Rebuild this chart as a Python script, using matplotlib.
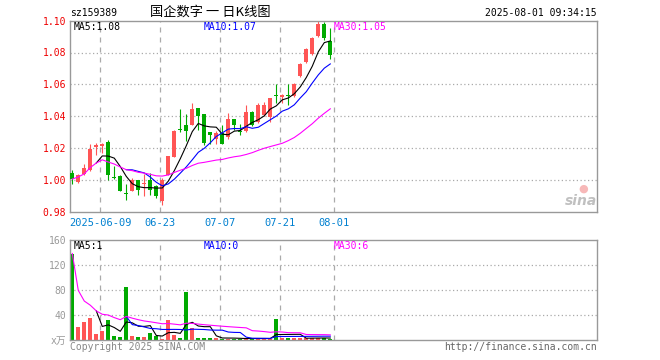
import numpy as np
import pandas as pd
import matplotlib
matplotlib.use('Agg')
import matplotlib.pyplot as plt

# daily bars, 2025-06-03 .. 2025-08-01
dates = ['06-03', '06-04', '06-05', '06-06', '06-09', '06-10', '06-11', '06-12', '06-13',
         '06-16', '06-17', '06-18', '06-19', '06-20', '06-23', '06-24', '06-25', '06-26',
         '06-27', '06-30', '07-01', '07-02', '07-03', '07-04', '07-07', '07-08', '07-09',
         '07-10', '07-11', '07-14', '07-15', '07-16', '07-17', '07-18', '07-21', '07-22',
         '07-23', '07-24', '07-25', '07-28', '07-29', '07-30', '07-31', '08-01']
opens = [1.0042, 0.9983, 1.0036, 1.0061, 1.0203, 1.0214, 1.0235, 1.0013, 1.0025, 0.9913,
         0.9931, 0.9996, 0.9975, 0.9996, 0.9958, 0.9864, 1.0031, 1.0143, 1.0314, 1.0346,
         1.0346, 1.0451, 1.0413, 1.0298, 1.0258, 1.0294, 1.0266, 1.0382, 1.0302, 1.0304,
         1.0426, 1.0365, 1.0409, 1.0396, 1.0530, 1.0520, 1.0530, 1.0526, 1.0650, 1.0740,
         1.0792, 1.0901, 1.0979, 1.0870]
highs = [1.0063, 1.0036, 1.0101, 1.0226, 1.0231, 1.0231, 1.0252, 1.0084, 1.0031, 0.9973,
         1.0010, 1.0000, 1.0036, 1.0042, 0.9969, 1.0010, 1.0151, 1.0314, 1.0444, 1.0413,
         1.0482, 1.0451, 1.0413, 1.0298, 1.0304, 1.0346, 1.0417, 1.0382, 1.0352, 1.0468,
         1.0430, 1.0482, 1.0488, 1.0514, 1.0602, 1.0541, 1.0602, 1.0606, 1.0734, 1.0830,
         1.0895, 1.1000, 1.0992, 1.0954]
lows = [0.9973, 0.9979, 1.0031, 1.0057, 1.0157, 1.0168, 0.9996, 1.0004, 0.9927, 0.9874,
        0.9927, 0.9906, 0.9899, 0.9906, 0.9885, 0.9839, 1.0027, 1.0141, 1.0300, 1.0245,
        1.0342, 1.0310, 1.0216, 1.0224, 1.0224, 1.0226, 1.0258, 1.0314, 1.0283, 1.0300,
        1.0340, 1.0355, 1.0398, 1.0361, 1.0482, 1.0482, 1.0472, 1.0522, 1.0644, 1.0736,
        1.0786, 1.0895, 1.0881, 1.0759]
closes = [1.0004, 1.0031, 1.0075, 1.0195, 1.0220, 1.0226, 1.0027, 1.0010, 0.9931, 0.9910,
          0.9996, 0.9933, 0.9979, 0.9933, 0.9895, 1.0000, 1.0147, 1.0308, 1.0310, 1.0304,
          1.0444, 1.0403, 1.0231, 1.0279, 1.0294, 1.0226, 1.0382, 1.0346, 1.0300, 1.0426,
          1.0346, 1.0468, 1.0468, 1.0514, 1.0526, 1.0535, 1.0526, 1.0602, 1.0730, 1.0820,
          1.0891, 1.0979, 1.0891, 1.0782]
# volume, 万
volumes = [138.7, 19.7, 27.7, 35.2, 9.6, 13.3, 32.0, 6.4, 4.8, 84.8,
           6.4, 4.8, 4.8, 11.2, 5.3, 1.6, 32.0, 7.5, 3.2, 76.8,
           19.2, 2.1, 2.1, 3.2, 3.2, 1.6, 1.6, 1.6, 1.6, 1.6,
           1.6, 1.6, 1.6, 1.6, 33.6, 2.1, 2.1, 2.1, 2.1, 2.1,
           2.7, 2.7, 2.7, 1.6]

tick_dates = ['06-09', '06-23', '07-07', '07-21', '08-01']
tick_labels = ['2025-06-09', '06-23', '07-07', '07-21', '08-01']
price_ticks = [0.98, 1.00, 1.02, 1.04, 1.06, 1.08, 1.10]
vol_ticks = [0, 40, 80, 120, 160]
vol_tick_labels = ['x万', '40', '80', '120', '160']

ma_price_labels = ['MA5:1.08', 'MA10:1.07', 'MA30:1.05']
ma_vol_labels = ['MA5:1', 'MA10:0', 'MA30:6']

W, H = 660, 360
RED = '#ff5555'
GREEN = '#00aa00'
MA_COLORS = ['black', '#0000ff', '#ff00ff']
GRID = '#aaaaaa'
MONO = ['DejaVu Sans Mono', 'Noto Sans CJK SC']


def rect(l, t, r, b):
    return [l / W, 1 - b / H, (r - l) / W, (b - t) / H]


def moving_averages(values):
    s = pd.Series(values)
    return [s.rolling(5, min_periods=5).mean(),
            s.rolling(10, min_periods=10).mean(),
            s.rolling(30, min_periods=1).mean()]


x = np.arange(len(dates))
o = np.array(opens)
c = np.array(closes)
up = c >= o
cols = np.where(up, RED, GREEN)
grid_x = [dates.index(d) + 0.67 for d in tick_dates]

fig = plt.figure(figsize=(W / 100, H / 100), dpi=100)
ax = fig.add_axes(rect(70.3, 20.7, 597.3, 211.5))
axv = fig.add_axes(rect(70.3, 240.3, 597.3, 339.5))

for a in (ax, axv):
    a.set_xlim(-0.33, 87.5)
    for sp in a.spines.values():
        sp.set_color('#999999')
        sp.set_linewidth(1.0)
    for gx in grid_x:
        a.axvline(gx, color=GRID, lw=0.9, ls=(0, (4, 4)), zorder=0)

# candles
body_lo = np.minimum(o, c)
body_h = np.maximum(np.abs(c - o), 0.0007)
ax.vlines(x, lows, highs, colors=cols, lw=0.8, zorder=2)
ax.bar(x, body_h, bottom=body_lo, width=0.67, color=cols, lw=0, zorder=3)

for ma, col in zip(moving_averages(closes), MA_COLORS):
    ax.plot(x, ma, color=col, lw=0.8, zorder=4)

ax.set_ylim(0.98, 1.10)
ax.set_yticks(price_ticks)
ax.set_yticklabels(['%.2f' % v for v in price_ticks])
for v in price_ticks[1:-1]:
    ax.axhline(v, color=GRID, lw=0.9, ls=(0, (1, 2)), zorder=0)
ax.set_xticks(grid_x)
ax.set_xticklabels(tick_labels)
ax.tick_params(axis='y', length=0, pad=3, labelcolor='#ee0000', labelsize=7)
ax.tick_params(axis='x', length=0, pad=5, labelcolor='#0080d0', labelsize=7.5)
for t in ax.get_xticklabels() + ax.get_yticklabels():
    t.set_family(MONO)

# volume
axv.bar(x, volumes, width=0.67, color=cols, lw=0, zorder=2)
for ma, col in zip(moving_averages(volumes), MA_COLORS):
    axv.plot(x, ma, color=col, lw=0.8, zorder=3)
axv.set_ylim(0, 160)
axv.set_yticks(vol_ticks)
axv.set_yticklabels(vol_tick_labels)
for v in vol_ticks[1:-1]:
    axv.axhline(v, color=GRID, lw=0.9, ls=(0, (1, 2)), zorder=0)
axv.set_xticks([])
axv.tick_params(axis='y', length=0, pad=3, labelcolor='#999999', labelsize=7)
for t in axv.get_yticklabels():
    t.set_family(MONO)

# texts
def ftext(px, py, s, **kw):
    kw.setdefault('family', MONO)
    kw.setdefault('fontsize', 7)
    return fig.text(px / W, 1 - py / H, s, **kw)

ftext(70, 13, 'sz159389', va='center')
ftext(150, 12, '国企数字 一 日K线图', va='center', family=['Noto Sans CJK SC', 'DejaVu Sans'],
      fontsize=9.5)
ftext(597, 13, '2025-08-01 09:34:15', va='center', ha='right')

for lbl, col, px in zip(ma_price_labels, MA_COLORS, [74, 204, 334]):
    ftext(px, 27, lbl, va='center', color=col)
for lbl, col, px in zip(ma_vol_labels, MA_COLORS, [74, 204, 334]):
    ftext(px, 246, lbl, va='center', color=col)

ftext(70, 347, 'Copyright 2025 SINA.COM', va='center', color='#888888')
ftext(597, 347, 'http://finance.sina.com.cn', va='center', ha='right', color='#666666')

# faint sina watermark
ftext(583, 189, '●', va='center', ha='center', color='#f7b8b8', fontsize=8, family='DejaVu Sans')
ftext(597, 201, 'sina', va='center', ha='right', color='#c0c0c0', fontsize=10,
      family='DejaVu Sans', style='italic', weight='bold')

fig.savefig('out.png', dpi=100)
